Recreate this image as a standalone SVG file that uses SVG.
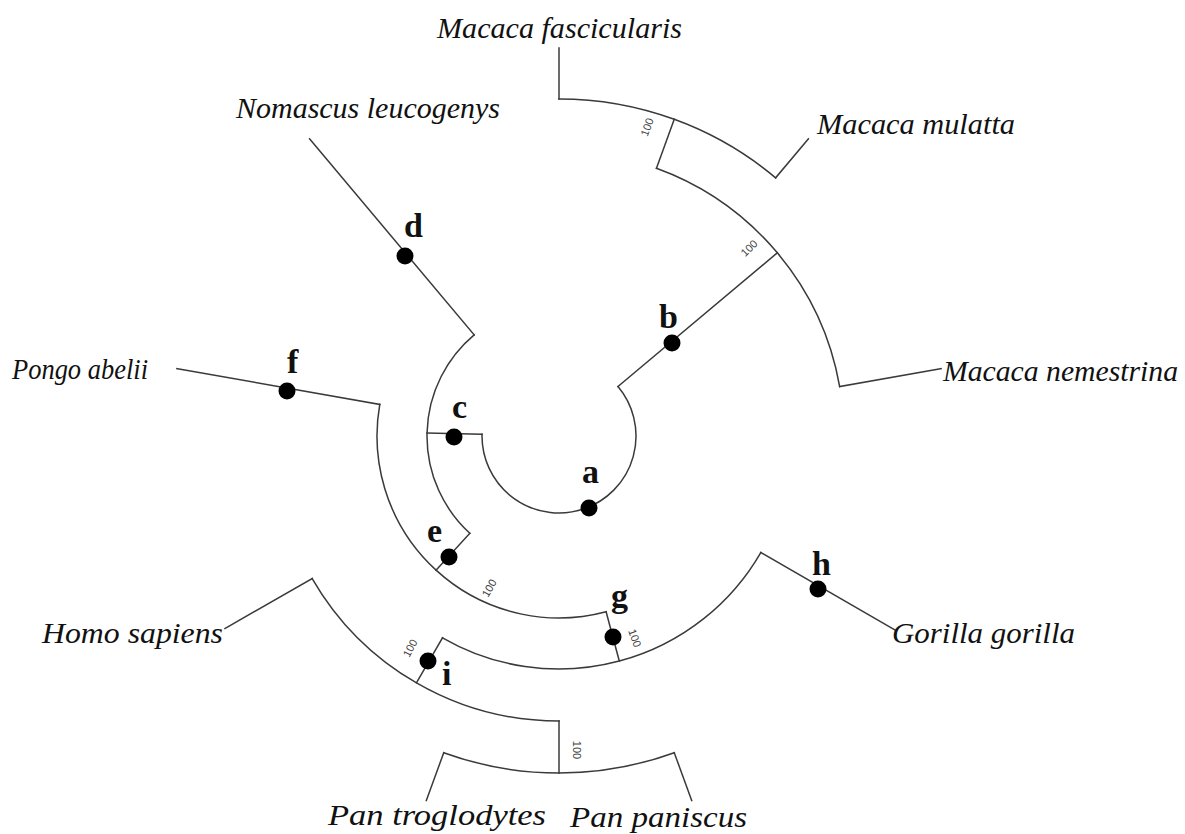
<svg xmlns="http://www.w3.org/2000/svg" width="1185" height="834" viewBox="0 0 1185 834">
<style>
.br{fill:none;stroke:#3a3a3a;stroke-width:1.5;stroke-linecap:square}
.sp{font-family:"Liberation Serif",serif;font-style:italic;font-size:28.5px;fill:#111}
.nl{font-family:"Liberation Serif",serif;font-weight:bold;font-size:34px;fill:#111}
.bs{font-family:"Liberation Sans",sans-serif;font-size:11px;fill:#444;text-anchor:middle;dominant-baseline:central}
.dot{fill:#000}
</style>
<rect width="1185" height="834" fill="#fff"/>
<g id="connectors">
<path class="br" d="M482.02,434.32 A77,77 0 1 0 617.98,386.51"/>
<path class="br" d="M482.02,434.32 L427.03,433.12"/>
<path class="br" d="M474.15,334.89 A132,132 0 0 0 469.82,533.32"/>
<path class="br" d="M617.98,386.51 L777.31,252.80"/>
<path class="br" d="M656.47,168.19 A285,285 0 0 1 839.67,386.51"/>
<path class="br" d="M656.47,168.19 L674.25,119.32"/>
<path class="br" d="M559,99 A337,337 0 0 1 775.62,177.85"/>
<path class="br" d="M559,99 L559,48"/>
<path class="br" d="M775.62,177.85 L808.41,138.79"/>
<path class="br" d="M839.67,386.51 L941.1,368.62"/>
<path class="br" d="M474.15,334.89 L309.59,138.79"/>
<path class="br" d="M469.82,533.32 L436.04,570.19"/>
<path class="br" d="M379.77,404.40 A182,182 0 0 0 606.10,611.79"/>
<path class="br" d="M379.77,404.40 L176.9,368.62"/>
<path class="br" d="M606.10,611.79 L619.30,661.05"/>
<path class="br" d="M442.5,637.78 A233,233 0 0 0 760.78,552.5"/>
<path class="br" d="M760.78,552.5 L895.01,630"/>
<path class="br" d="M442.5,637.78 L416.5,682.82"/>
<path class="br" d="M312.18,578.5 A285,285 0 0 0 559,721"/>
<path class="br" d="M312.18,578.5 L225,628.5"/>
<path class="br" d="M559,721 L559,773"/>
<path class="br" d="M443.75,752.68 A337,337 0 0 0 674.25,752.68"/>
<path class="br" d="M443.75,752.68 L426.3,800.6"/>
<path class="br" d="M674.25,752.68 L691.7,800.6"/>
</g>
<g id="bootstrap">
<text class="bs" transform="translate(647,127) rotate(-70)">100</text>
<text class="bs" transform="translate(749,248) rotate(-45)">100</text>
<text class="bs" transform="translate(489,588) rotate(-60)">100</text>
<text class="bs" transform="translate(635,638) rotate(70)">100</text>
<text class="bs" transform="translate(410,648) rotate(-62)">100</text>
<text class="bs" transform="translate(577,750) rotate(90)">100</text>
</g>
<g id="node-a"><circle class="dot" cx="589" cy="508" r="8.5"/><text class="nl" x="582" y="483">a</text></g>
<g id="node-b"><circle class="dot" cx="672" cy="343" r="8.5"/><text class="nl" x="659" y="328">b</text></g>
<g id="node-c"><circle class="dot" cx="454" cy="437" r="8.5"/><text class="nl" x="452" y="418">c</text></g>
<g id="node-d"><circle class="dot" cx="405" cy="256" r="8.5"/><text class="nl" x="404" y="237">d</text></g>
<g id="node-e"><circle class="dot" cx="449" cy="557" r="8.5"/><text class="nl" x="427" y="542">e</text></g>
<g id="node-f"><circle class="dot" cx="287" cy="391" r="8.5"/><text class="nl" x="287" y="373">f</text></g>
<g id="node-g"><circle class="dot" cx="613" cy="637" r="8.5"/><text class="nl" x="611" y="607">g</text></g>
<g id="node-h"><circle class="dot" cx="818" cy="589" r="8.5"/><text class="nl" x="812" y="575">h</text></g>
<g id="node-i"><circle class="dot" cx="428" cy="661" r="8.5"/><text class="nl" x="442" y="685">i</text></g>
<g id="leaf-macaca-fascicularis"><text class="sp" x="437" y="38" textLength="245" lengthAdjust="spacingAndGlyphs">Macaca fascicularis</text></g>
<g id="leaf-macaca-mulatta"><text class="sp" x="817" y="134" textLength="198" lengthAdjust="spacingAndGlyphs">Macaca mulatta</text></g>
<g id="leaf-macaca-nemestrina"><text class="sp" x="943" y="381" textLength="235" lengthAdjust="spacingAndGlyphs">Macaca nemestrina</text></g>
<g id="leaf-nomascus"><text class="sp" x="236" y="118" textLength="264" lengthAdjust="spacingAndGlyphs">Nomascus leucogenys</text></g>
<g id="leaf-pongo"><text class="sp" x="12" y="379" textLength="136" lengthAdjust="spacingAndGlyphs">Pongo abelii</text></g>
<g id="leaf-homo"><text class="sp" x="42" y="643" textLength="181" lengthAdjust="spacingAndGlyphs">Homo sapiens</text></g>
<g id="leaf-gorilla"><text class="sp" x="892" y="643" textLength="183" lengthAdjust="spacingAndGlyphs">Gorilla gorilla</text></g>
<g id="leaf-pan-troglodytes"><text class="sp" x="328" y="825" textLength="218" lengthAdjust="spacingAndGlyphs">Pan troglodytes</text></g>
<g id="leaf-pan-paniscus"><text class="sp" x="570" y="827" textLength="177" lengthAdjust="spacingAndGlyphs">Pan paniscus</text></g>
</svg>
